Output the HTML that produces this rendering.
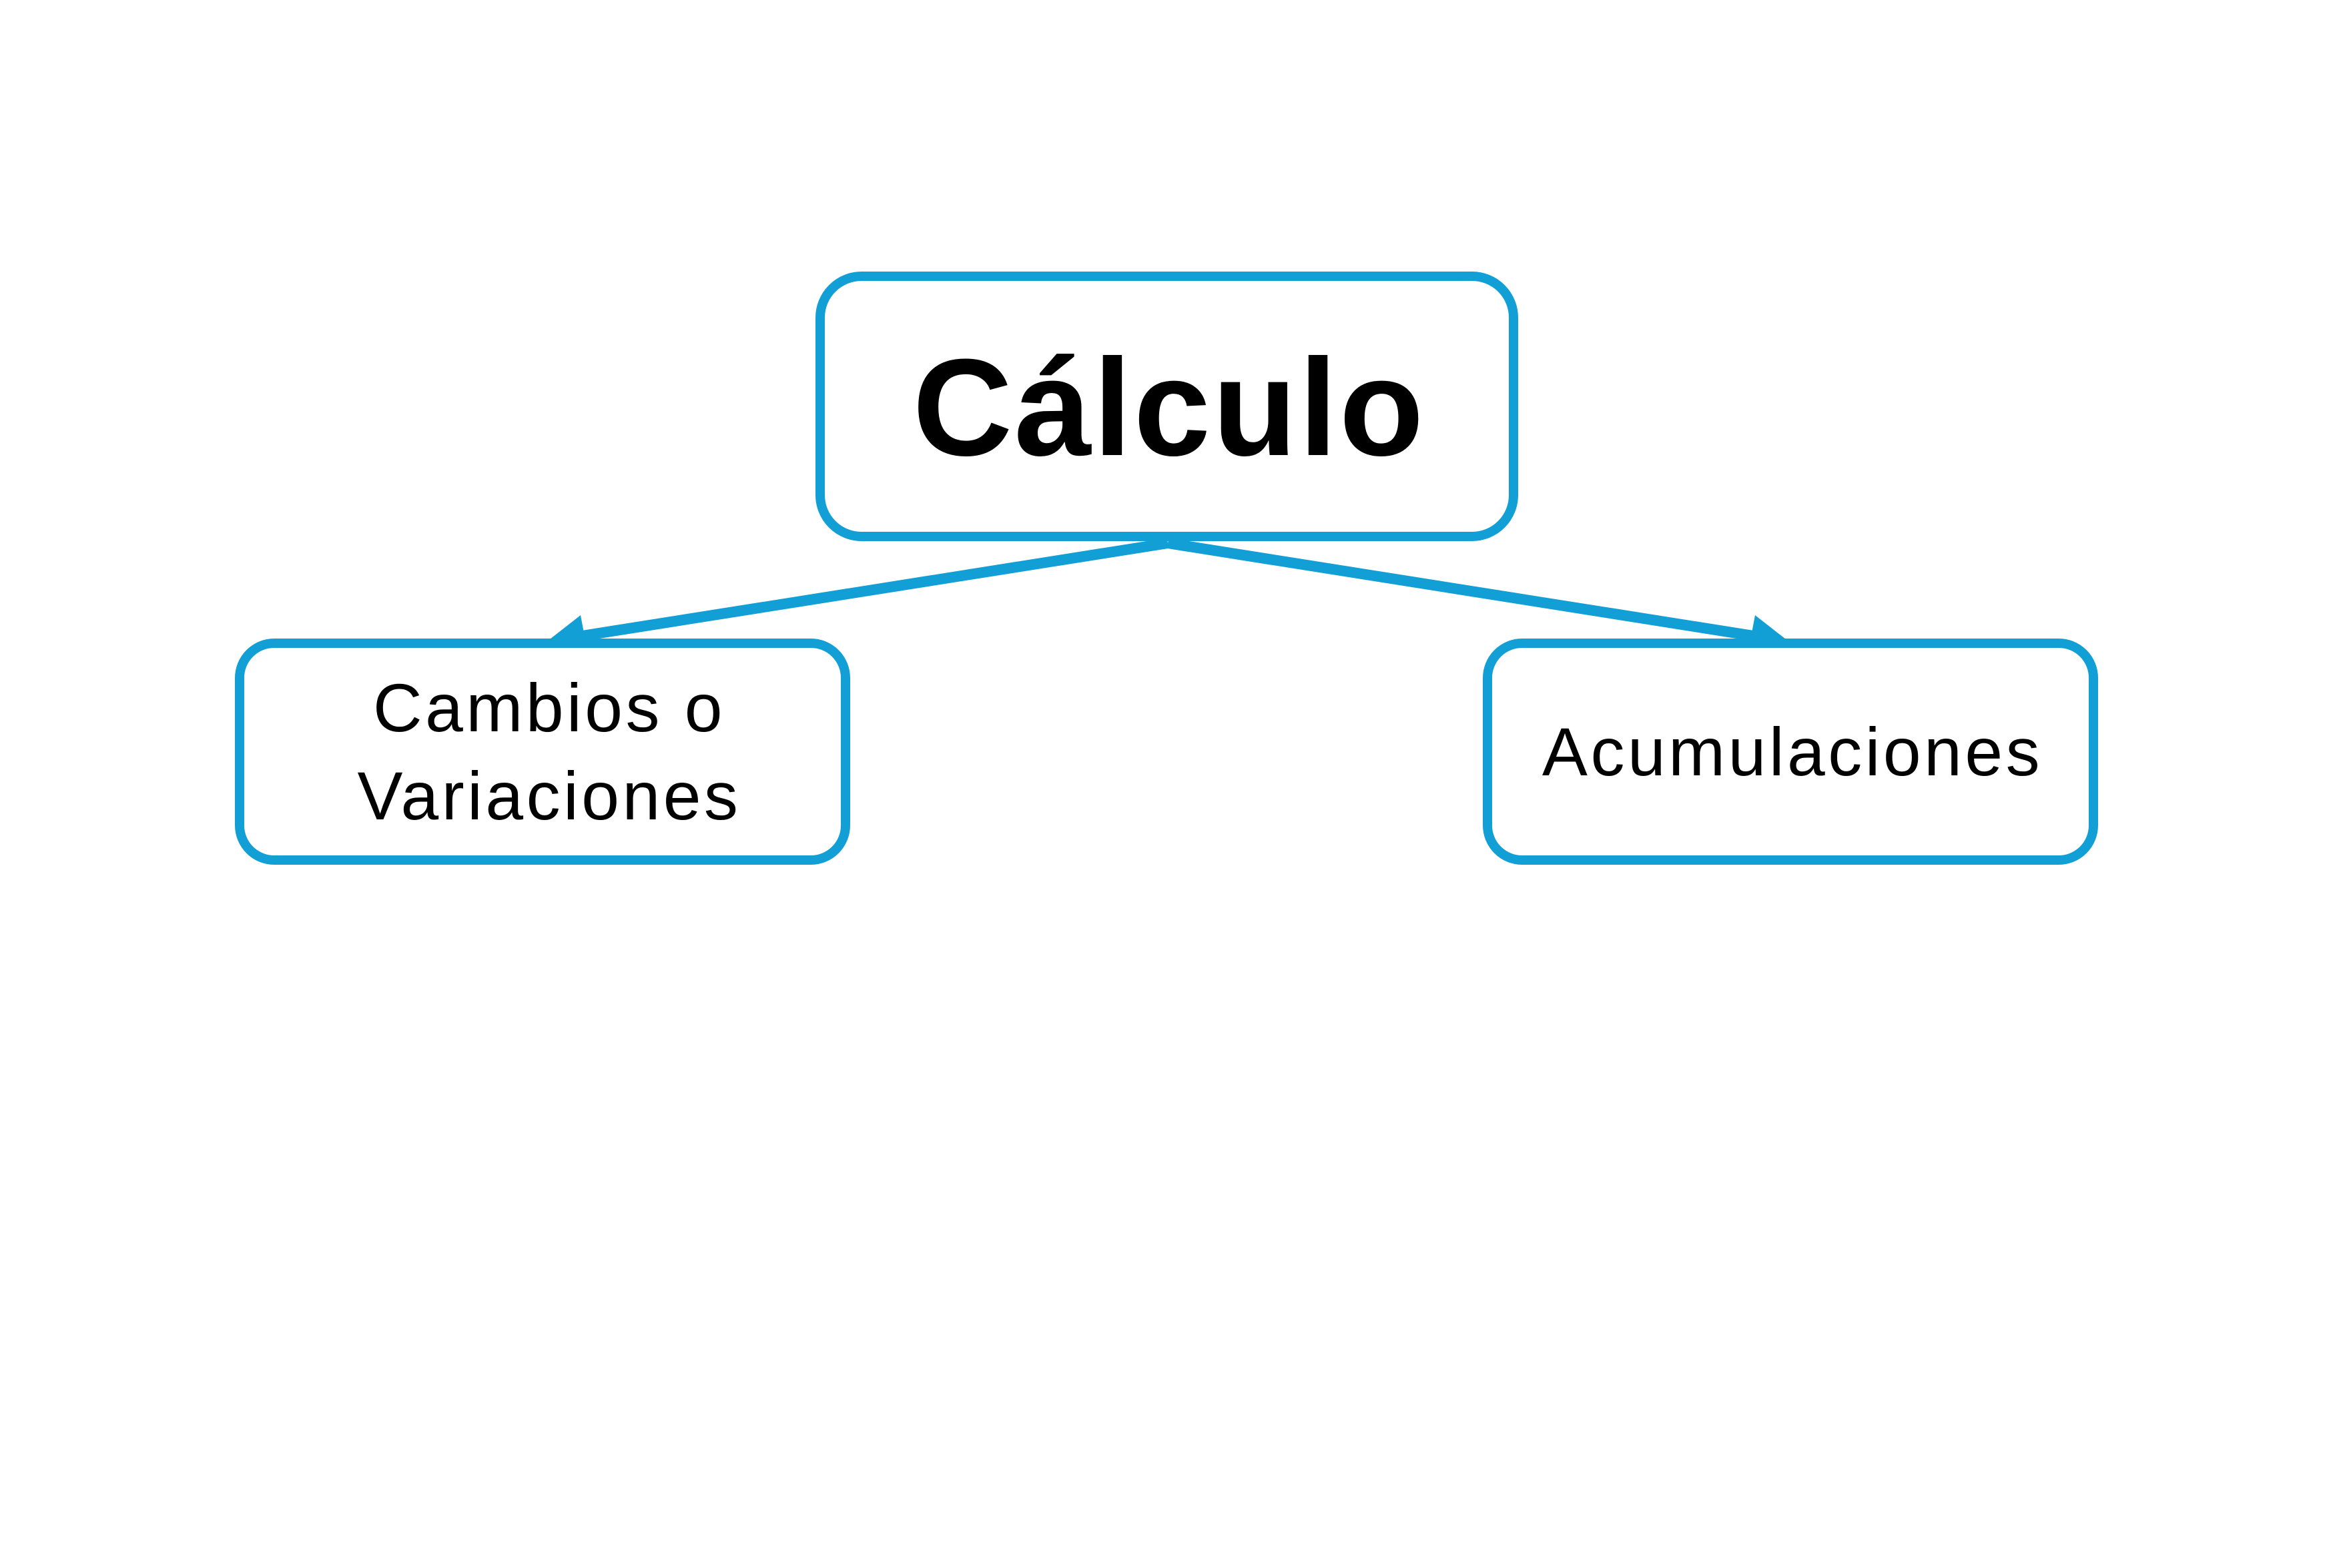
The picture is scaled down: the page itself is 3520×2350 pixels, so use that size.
<!DOCTYPE html>
<html><head><style>html,body{margin:0;padding:0;background:#fff}</style></head>
<body>
<svg width="3520" height="2345" viewBox="0 0 3520 2345" xmlns="http://www.w3.org/2000/svg">
<rect width="3520" height="2345" fill="#fff"/>
<g stroke="#119fd6" stroke-width="16" fill="none">
<line x1="1750" y1="814" x2="860" y2="955"/>
<line x1="1750" y1="814" x2="2640" y2="955"/>
</g>
<g fill="#119fd6">
<polygon points="815,965 870,922 880,975"/>
<polygon points="2685,965 2630,922 2620,975"/>
</g>
<g stroke="#119fd6" stroke-width="14" fill="#fff">
<rect x="1229" y="414" width="1039" height="390" rx="62" ry="62"/>
<rect x="359" y="964" width="908" height="325" rx="52" ry="52"/>
<rect x="2229" y="964" width="908" height="325" rx="52" ry="52"/>
</g>
<g font-family="Liberation Sans, Arial, sans-serif" text-anchor="middle" fill="#000">
<text x="1752" y="682" font-size="207" font-weight="bold" letter-spacing="3">Cálculo</text>
<text x="823" y="1096" font-size="102" letter-spacing="4.5">Cambios o</text>
<text x="823" y="1228" font-size="102" letter-spacing="4.5">Variaciones</text>
<text x="2686" y="1162" font-size="102" letter-spacing="4.5">Acumulaciones</text>
</g>
</svg>
</body></html>
